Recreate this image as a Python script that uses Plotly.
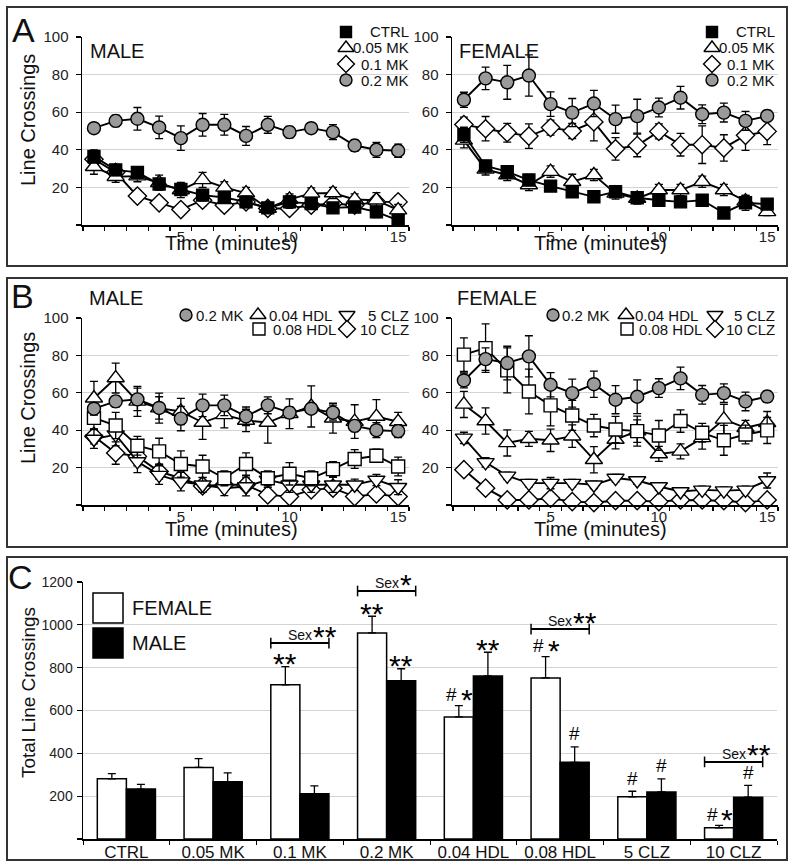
import plotly.graph_objects as go

W, H = 800, 868
FONT = "Liberation Sans, Arial, sans-serif"

# ------------------------------------------------------------------ data
minutes = list(range(1, 16))

# Panel A - MALE
a_male_ctrl = [36.4, 29.3, 28.0, 21.8, 18.9, 15.9, 14.6, 12.3, 9.1, 12.3, 11.4, 9.1, 9.6, 7.0, 2.5]
a_male_ctrl_err = [3.5, 3, 3, 3, 3, 3, 3, 3, 2.5, 3.5, 3, 2.5, 2.5, 3, 2]
a_male_005 = [31.0, 25.7, 26.0, 22.5, 18.6, 24.0, 20.0, 17.0, 8.8, 13.6, 16.8, 17.0, 13.6, 13.2, 7.9]
a_male_005_err = [4, 3, 3, 4, 4, 4, 3, 3, 2, 3, 3, 3, 3, 4, 3]
a_male_01 = [35.0, 28.0, 15.4, 11.8, 8.2, 13.2, 10.5, 12.3, 8.8, 8.8, 10.5, 11.4, 10.5, 12.3, 12.3]
a_male_01_err = [3, 3, 3, 2.5, 2, 3, 3, 3, 2, 2, 2.5, 2.5, 2.5, 3, 3]
a_male_02 = [51.5, 55.4, 56.5, 51.9, 46.2, 53.3, 53.3, 47.4, 53.3, 49.4, 51.5, 49.4, 42.3, 40.0, 39.5]
a_male_02_err = [2, 3, 6, 6, 6.5, 6, 5.5, 5, 4.5, 3, 2.5, 4, 3, 4, 3.5]

# Panel A - FEMALE
a_fem_ctrl = [48.0, 31.4, 28.4, 23.9, 20.7, 17.7, 15.0, 17.7, 14.5, 13.2, 12.3, 13.2, 6.4, 11.8, 11.1]
a_fem_ctrl_err = [4, 3, 3, 3, 2, 2, 2, 2, 2, 2, 2, 2, 2, 4, 2]
a_fem_005 = [45.0, 29.6, 26.6, 21.3, 28.4, 23.0, 26.6, 16.8, 14.1, 18.6, 18.6, 23.0, 18.6, 12.7, 7.0]
a_fem_005_err = [4, 3, 3, 3, 3, 4, 3, 3, 3, 3, 3, 3, 3, 3, 2]
a_fem_01 = [53.4, 51.2, 49.1, 47.3, 51.8, 50.0, 54.8, 40.5, 42.3, 49.8, 42.7, 42.7, 41.0, 47.7, 49.8]
a_fem_01_err = [4, 6.5, 5, 6.5, 4, 4, 10, 6, 6, 4, 6, 10, 7, 8, 7]
a_fem_02 = [66.6, 78.0, 75.9, 79.5, 64.3, 59.8, 64.6, 56.3, 57.9, 62.5, 67.7, 58.9, 59.8, 55.4, 58.0]
a_fem_02_err = [4, 6, 9, 11, 6.5, 7.5, 7, 7.5, 9, 5, 6, 5, 5, 5, 3]

# Panel B - MALE
b_male_hdl004 = [57.1, 67.9, 55.4, 51.8, 50.0, 44.1, 48.2, 45.2, 44.1, 48.8, 52.7, 46.4, 44.6, 47.3, 44.5]
b_male_hdl004_err = [9, 8, 8, 8, 7, 9, 7, 6, 11, 8, 11, 8, 9, 9, 5]
b_male_hdl008 = [46.6, 42.5, 31.7, 28.7, 21.9, 20.6, 14.3, 21.9, 14.3, 16.7, 14.3, 19.2, 24.6, 26.3, 20.6]
b_male_hdl008_err = [6, 7, 5, 7, 7, 6, 4, 6, 4, 6, 4, 4, 5, 3.5, 5]
b_male_clz5 = [35.3, 37.6, 23.3, 16.0, 12.5, 10.8, 9.0, 9.9, 13.4, 10.8, 10.8, 10.8, 10.8, 13.4, 9.5]
b_male_clz5_err = [5, 6, 6, 5, 5, 4, 4, 5, 4, 4, 4, 4, 3, 3, 4]
b_male_clz10 = [36.7, 27.8, 26.0, 17.9, 14.3, 10.2, 10.8, 10.8, 5.4, 4.5, 8.1, 9.0, 4.5, 5.9, 4.5]
b_male_clz10_err = [4, 6, 5, 4, 3, 3, 3, 3, 2, 2, 3, 3, 2, 2, 2]

# Panel B - FEMALE
b_fem_hdl004 = [53.8, 44.9, 33.2, 35.4, 34.6, 36.8, 24.2, 35.0, 39.5, 27.3, 28.7, 35.9, 45.8, 41.3, 44.0]
b_fem_hdl004_err = [7, 7, 7, 4, 6, 6, 7, 5, 6, 4, 4, 6, 8, 4, 6]
b_fem_hdl008 = [80.4, 83.9, 72.0, 60.7, 53.3, 47.9, 42.5, 40.4, 39.5, 37.2, 44.9, 38.6, 34.6, 37.7, 39.9]
b_fem_hdl008_err = [9, 13, 12, 12, 11, 8, 6, 7, 8, 8, 6, 5, 8, 5, 7]
b_fem_clz5 = [35.9, 22.8, 15.6, 11.7, 11.7, 11.7, 10.8, 14.4, 13.1, 9.9, 7.2, 8.1, 7.7, 8.1, 13.1]
b_fem_clz5_err = [3, 2.5, 2, 2, 3, 2, 2, 2, 2, 2, 2, 2, 2, 2, 4]
b_fem_clz10 = [18.9, 9.0, 2.7, 2.7, 3.6, 1.8, 1.3, 2.3, 2.3, 1.8, 2.7, 2.7, 2.3, 1.3, 2.7]
b_fem_clz10_err = [1.5, 1.5, 1, 1, 1, 1, 1, 1, 1, 1, 1, 1, 1, 1, 1]

# Panel C - totals
groups = ["CTRL", "0.05 MK", "0.1 MK", "0.2 MK", "0.04 HDL", "0.08 HDL", "5 CLZ", "10 CLZ"]
female_total = [281, 334, 720, 962, 570, 752, 197, 52]
female_total_err = [24, 41, 85, 78, 53, 100, 26, 12]
male_total = [233, 267, 211, 739, 761, 358, 220, 195]
male_total_err = [22, 42, 37, 56, 111, 72, 61, 55]
female_marks = ["", "", "**", "**", "#*", "#*", "#", "#*"]
male_marks = ["", "", "", "**", "**", "#", "#", "#"]
sex_effects = {2: ("**", 915), 3: ("*", 1158), 5: ("**", 980), 7: ("**", 360)}

line_ticks = [5, 10, 15]
line_yticks = [0, 20, 40, 60, 80, 100]
bar_yticks = [0, 200, 400, 600, 800, 1000, 1200]

# ------------------------------------------------------------------ helpers
def PX(x):
    return x / W


def PY(y):
    return 1 - y / H


STY = {
    "CTRL": dict(symbol="square", size=12, color="black"),
    "0.05 MK": dict(symbol="triangle-up", size=15, color="white"),
    "0.1 MK": dict(symbol="diamond", size=14, color="white"),
    "0.2 MK": dict(symbol="circle", size=13, color="#9a9a9a"),
    "0.04 HDL": dict(symbol="triangle-up", size=15, color="white"),
    "0.08 HDL": dict(symbol="square", size=13, color="white"),
    "5 CLZ": dict(symbol="triangle-down", size=15, color="white"),
    "10 CLZ": dict(symbol="diamond", size=14, color="white"),
}

fig = go.Figure()


def add_series(name, y, err, xa, ya):
    s = STY[name]
    fig.add_trace(go.Scatter(
        x=minutes, y=y, mode="lines+markers", name=name, showlegend=False,
        line=dict(color="black", width=1.9),
        marker=dict(symbol=s["symbol"], size=s["size"], color=s["color"],
                    line=dict(color="black", width=1.4)),
        error_y=dict(type="data", array=err, color="black", thickness=1.3, width=4),
        xaxis=xa, yaxis=ya, hoverinfo="skip", cliponaxis=False))


# Panel A
add_series("0.1 MK", a_male_01, a_male_01_err, "x", "y")
add_series("0.05 MK", a_male_005, a_male_005_err, "x", "y")
add_series("CTRL", a_male_ctrl, a_male_ctrl_err, "x", "y")
add_series("0.2 MK", a_male_02, a_male_02_err, "x", "y")
add_series("0.1 MK", a_fem_01, a_fem_01_err, "x2", "y2")
add_series("0.05 MK", a_fem_005, a_fem_005_err, "x2", "y2")
add_series("CTRL", a_fem_ctrl, a_fem_ctrl_err, "x2", "y2")
add_series("0.2 MK", a_fem_02, a_fem_02_err, "x2", "y2")
# Panel B
add_series("10 CLZ", b_male_clz10, b_male_clz10_err, "x3", "y3")
add_series("5 CLZ", b_male_clz5, b_male_clz5_err, "x3", "y3")
add_series("0.08 HDL", b_male_hdl008, b_male_hdl008_err, "x3", "y3")
add_series("0.04 HDL", b_male_hdl004, b_male_hdl004_err, "x3", "y3")
add_series("0.2 MK", a_male_02, a_male_02_err, "x3", "y3")
add_series("10 CLZ", b_fem_clz10, b_fem_clz10_err, "x4", "y4")
add_series("5 CLZ", b_fem_clz5, b_fem_clz5_err, "x4", "y4")
add_series("0.04 HDL", b_fem_hdl004, b_fem_hdl004_err, "x4", "y4")
add_series("0.08 HDL", b_fem_hdl008, b_fem_hdl008_err, "x4", "y4")
add_series("0.2 MK", a_fem_02, a_fem_02_err, "x4", "y4")

# Panel C bars
fig.add_trace(go.Bar(
    x=groups, y=female_total, name="FEMALE", showlegend=False,
    marker=dict(color="white", line=dict(color="black", width=1.5)),
    error_y=dict(type="data", symmetric=False, array=female_total_err,
                 arrayminus=[0] * len(groups), color="black", thickness=1.3, width=4),
    xaxis="x5", yaxis="y5", hoverinfo="skip"))
fig.add_trace(go.Bar(
    x=groups, y=male_total, name="MALE", showlegend=False,
    marker=dict(color="black", line=dict(color="black", width=1.5)),
    error_y=dict(type="data", symmetric=False, array=male_total_err,
                 arrayminus=[0] * len(groups), color="black", thickness=1.3, width=4),
    xaxis="x5", yaxis="y5", hoverinfo="skip"))

# legend keys drawn on a full-page overlay axis (pixel coordinates)
leg_keys = [
    ("CTRL", 346, 32), ("0.05 MK", 346, 48), ("0.1 MK", 346, 64), ("0.2 MK", 346, 80),
    ("CTRL", 712, 32), ("0.05 MK", 712, 48), ("0.1 MK", 712, 64), ("0.2 MK", 712, 80),
    ("0.2 MK", 186, 315), ("0.04 HDL", 258, 315), ("5 CLZ", 347, 315),
    ("0.08 HDL", 259, 329), ("10 CLZ", 347, 329),
    ("0.2 MK", 553, 315), ("0.04 HDL", 626, 315), ("5 CLZ", 715, 315),
    ("0.08 HDL", 627, 329), ("10 CLZ", 715, 329),
]
for nm, kx, ky in leg_keys:
    s = STY[nm]
    fig.add_trace(go.Scatter(
        x=[kx], y=[ky], mode="markers", showlegend=False, hoverinfo="skip",
        marker=dict(symbol=s["symbol"], size=s["size"] - 1, color=s["color"],
                    line=dict(color="black", width=1.4)),
        xaxis="x6", yaxis="y6", cliponaxis=False))

# ------------------------------------------------------------------ axes
def line_xaxis(dom, anchor):
    return dict(domain=[PX(dom[0]), PX(dom[1])], anchor=anchor, range=[0.45, 15.5],
                tickvals=line_ticks, ticks="", showgrid=False, zeroline=False,
                automargin=False, ticklabelstandoff=-3,
                showline=True, linecolor="black", linewidth=1.5,
                minor=dict(tick0=0.5, dtick=1, ticks="outside", ticklen=4,
                           tickcolor="black", tickwidth=1.2, showgrid=False),
                tickfont=dict(family=FONT, size=15, color="#222"), fixedrange=True)


def line_yaxis(dom, anchor):
    return dict(domain=[PY(dom[1]), PY(dom[0])], anchor=anchor, range=[0, 100],
                tickvals=line_yticks, ticktext=[""] + [str(v) for v in line_yticks[1:]],
                ticks="outside", ticklen=5, tickcolor="black", tickwidth=1.2,
                showgrid=True, gridcolor="#d4d4d4", gridwidth=1, zeroline=False,
                automargin=False, ticklabelstandoff=4,
                showline=True, linecolor="black", linewidth=1.5,
                tickfont=dict(family=FONT, size=15, color="#222"), fixedrange=True)


layout = dict(
    template="none",
    width=W, height=H, margin=dict(l=0, r=0, t=0, b=0, pad=0, autoexpand=False),
    paper_bgcolor="white", plot_bgcolor="rgba(0,0,0,0)",
    font=dict(family=FONT, color="#111"),
    barmode="group", bargap=0.33, bargroupgap=0,
    showlegend=False,
    xaxis=line_xaxis([82, 409], "y"), yaxis=line_yaxis([37, 225], "x"),
    xaxis2=line_xaxis([452, 778], "y2"), yaxis2=line_yaxis([37, 225], "x2"),
    xaxis3=line_xaxis([82, 409], "y3"), yaxis3=line_yaxis([318, 505], "x3"),
    xaxis4=line_xaxis([452, 778], "y4"), yaxis4=line_yaxis([318, 505], "x4"),
    xaxis5=dict(domain=[PX(83), PX(777)], anchor="y5", type="category",
                tickson="boundaries", ticks="outside", ticklen=4, tickcolor="black",
                showline=True, linecolor="black", linewidth=1.5, showgrid=False,
                automargin=False, ticklabelstandoff=-3,
                tickfont=dict(family=FONT, size=17, color="#111"), fixedrange=True),
    yaxis5=dict(domain=[PY(839), PY(582)], anchor="x5", range=[0, 1200],
                tickvals=bar_yticks, ticktext=[""] + [str(v) for v in bar_yticks[1:]],
                ticks="outside", ticklen=5, tickcolor="black", tickwidth=1.2,
                showgrid=True, gridcolor="#d4d4d4", zeroline=False,
                automargin=False, ticklabelstandoff=1,
                showline=True, linecolor="black", linewidth=1.5,
                tickfont=dict(family=FONT, size=14, color="#222"), fixedrange=True),
    xaxis6=dict(domain=[0, 1], anchor="y6", range=[0, W], visible=False, fixedrange=True,
                automargin=False),
    yaxis6=dict(domain=[0, 1], anchor="x6", range=[H, 0], visible=False, fixedrange=True,
                automargin=False),
)
fig.update_layout(**layout)

# ------------------------------------------------------------------ annotations
anns = []


def ann(x, y, text, size, xanchor="center", yanchor="middle", angle=0, color="#111"):
    anns.append(dict(x=PX(x), y=PY(y), xref="paper", yref="paper", text=text,
                     showarrow=False, xanchor=xanchor, yanchor=yanchor, textangle=angle,
                     font=dict(family=FONT, size=size, color=color)))


# panel letters
ann(23, 30, "A", 34)
ann(22, 296, "B", 34)
ann(20, 577, "C", 34)
# sex labels
ann(88, 51, "MALE", 20, xanchor="left")
ann(457, 51, "FEMALE", 20, xanchor="left")
ann(87, 298, "MALE", 20, xanchor="left")
ann(455, 298, "FEMALE", 20, xanchor="left")
# axis titles
for cy in (120, 398):
    ann(28, cy, "Line Crossings", 20, angle=-90)
for cx in (231, 600):
    ann(cx, 243, "Time (minutes)", 20)
    ann(cx, 529, "Time (minutes)", 20)
ann(28, 693, "Total Line Crossings", 19, angle=-90)

# legend texts
for dx in (0, 366):
    for nm, yy in (("CTRL", 32), ("0.05 MK", 48), ("0.1 MK", 64), ("0.2 MK", 80)):
        ann(411 + dx, yy, nm, 15, xanchor="right")
for off in (-366, 0):
    ann(560 + off, 315, "0.2 MK", 15, xanchor="left")
    ann(633 + off, 315, "0.04 HDL", 15, xanchor="left")
    ann(777 + off, 315, "5 CLZ", 15, xanchor="right")
    ann(637 + off, 329, "0.08 HDL", 15, xanchor="left")
    ann(777 + off, 329, "10 CLZ", 15, xanchor="right")

# bar legend (panel C)
ann(130, 608, "FEMALE", 20, xanchor="left")
ann(130, 643, "MALE", 20, xanchor="left")

shapes = [
    dict(type="rect", xref="paper", yref="paper", x0=PX(93), x1=PX(123), y0=PY(623), y1=PY(593),
         line=dict(color="black", width=1.5), fillcolor="white"),
    dict(type="rect", xref="paper", yref="paper", x0=PX(93), x1=PX(123), y0=PY(658), y1=PY(628),
         line=dict(color="black", width=1.5), fillcolor="black"),
]
# panel frames
for (y0, y1) in ((7, 266), (278, 547), (557, 860)):
    shapes.append(dict(type="rect", xref="paper", yref="paper", x0=PX(7), x1=PX(787),
                       y0=PY(y1), y1=PY(y0), line=dict(color="#333", width=2), layer="below"))


# significance marks above bars
def mark(i, side, txt, top):
    base = -14.5 if side == "F" else 14.5
    common = dict(x=groups[i], y=top, xref="x5", yref="y5", showarrow=False,
                  yanchor="middle")
    if txt == "**":
        anns.append(dict(common, text="**", xshift=base, yshift=3,
                         font=dict(family=FONT, size=30, color="black")))
    elif txt == "#":
        anns.append(dict(common, text="#", xshift=base, yshift=13,
                         font=dict(family=FONT, size=19, color="black")))
    elif txt == "#*":
        anns.append(dict(common, text="#", xshift=base - 7, yshift=11,
                         font=dict(family=FONT, size=19, color="black")))
        anns.append(dict(common, text="*", xshift=base + 8, yshift=6,
                         font=dict(family=FONT, size=30, color="black")))


for i, t in enumerate(female_marks):
    if t:
        mark(i, "F", t, female_total[i] + female_total_err[i])
for i, t in enumerate(male_marks):
    if t:
        mark(i, "M", t, male_total[i] + male_total_err[i])

# sex-effect brackets
for i, (stars, yv) in sex_effects.items():
    shapes.append(dict(type="line", xref="x5", yref="y5", x0=i - 0.335, x1=i + 0.335,
                       y0=yv, y1=yv, line=dict(color="black", width=2)))
    for e in (i - 0.335, i + 0.335):
        shapes.append(dict(type="line", xref="x5", yref="y5", x0=e, x1=e,
                           y0=yv - 25, y1=yv + 25, line=dict(color="black", width=1.5)))
    anns.append(dict(x=groups[i], y=yv, xref="x5", yref="y5", text="Sex", showarrow=False,
                     yanchor="middle", yshift=8, font=dict(family=FONT, size=14, color="#111")))
    anns.append(dict(x=groups[i], y=yv, xref="x5", yref="y5", text=stars, showarrow=False,
                     yanchor="middle", xanchor="left", xshift=11, yshift=7,
                     font=dict(family=FONT, size=30, color="black")))

fig.update_layout(annotations=anns, shapes=shapes)
fig.write_html("out.html", config={"displayModeBar": False, "staticPlot": True},
               post_script="document.body.style.margin='0';document.body.style.padding='0';"
                           "document.body.style.overflow='hidden';")
